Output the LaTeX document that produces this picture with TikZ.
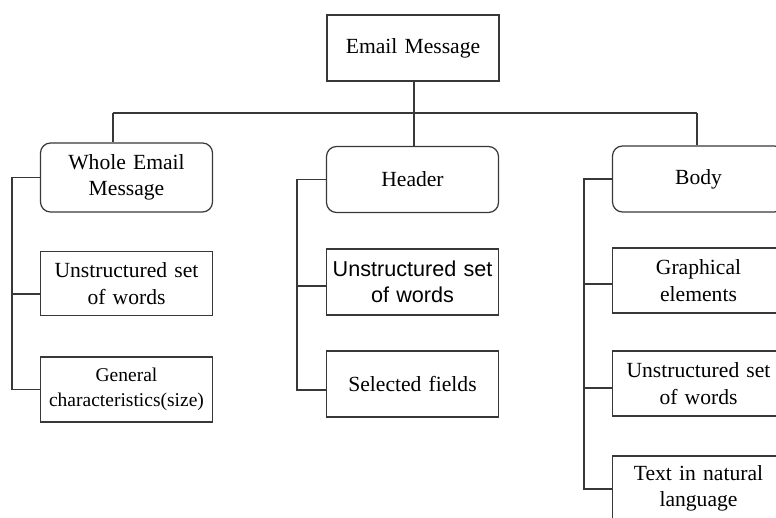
\documentclass[tikz,border=0pt]{standalone}
\usepackage{fontspec}
\setmainfont{Liberation Serif}
\newfontfamily\sansf{Liberation Sans}
\begin{document}
\begin{tikzpicture}[x=1pt,y=-1pt,
  line/.style={draw=black!78,line width=1.2pt},
  box/.style={line,fill=white,minimum width=172pt,minimum height=66pt,
    text width=168pt,align=center,inner sep=0pt,font=\fontsize{21.6}{26.5}\selectfont},
  rbox/.style={box,rounded corners=10pt},
  small/.style={font=\fontsize{19.5}{25}\selectfont}]
\useasboundingbox (0,0) rectangle (776,518);
\clip (0,0) rectangle (776,518);

% root
\node[box,minimum height=66pt] (root) at (413,48) {Email Message};

% first level
\node[rbox,minimum height=69pt] (whole) at (126.5,177.5) {Whole Email\\Message};
\node[rbox] (header) at (412.5,179.5) {Header};
\node[rbox] (body) at (698.5,179) {Body};

% children of the whole message
\node[box,minimum height=64pt] (uwa) at (126.5,283.5) {Unstructured set\\of words};
\node[box,minimum height=65pt,small] (gen) at (126.5,389.5) {General\\characteristics(size)};

% children of the header
\node[box,font=\sansf\fontsize{21.6}{26.5}\selectfont] (uwb) at (412.5,282) {Unstructured set\\of words};
\node[box] (sel) at (412.5,384) {Selected fields};

% children of the body
\node[box,minimum height=65pt] (gra) at (698.5,280.5) {Graphical\\elements};
\node[box,minimum height=65pt] (uwc) at (698.5,383.5) {Unstructured set\\of words};
\node[box,minimum height=65pt] (txt) at (698.5,488.5) {Text in natural\\language};

% bus from the root
\draw[line] (root.south -| 414,0) -- (414,113);
\draw[line] (113,113) -- (697,113);
\draw[line] (113,113) -- (whole.north -| 113,0);
\draw[line] (414,113) -- (header.north -| 414,0);
\draw[line] (697,113) -- (body.north -| 697,0);

% left bracket
\draw[line] (whole.west) -- (12,177.5) -- (12,389.5) -- (gen.west);
\draw[line] (12,294) -- (uwa.west |- 0,294);

% middle bracket
\draw[line] (header.west) -- (297,179.5) -- (297,390) -- (sel.west |- 0,390);
\draw[line] (297,286) -- (uwb.west |- 0,286);

% right bracket
\draw[line] (body.west) -- (584,179) -- (584,489) -- (txt.west |- 0,489);
\draw[line] (584,284) -- (gra.west |- 0,284);
\draw[line] (584,388) -- (uwc.west |- 0,388);
\end{tikzpicture}
\end{document}
